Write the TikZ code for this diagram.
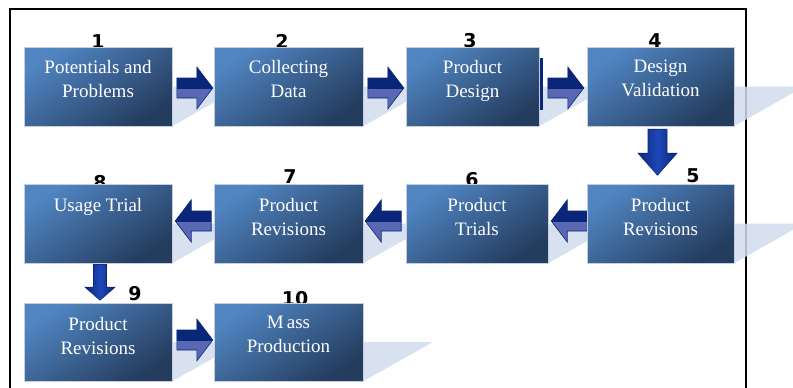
\documentclass[tikz,border=0pt]{standalone}
\usepackage{fontspec}
\setmainfont{Liberation Serif}
\newfontfamily\numfont{DejaVu Sans}
\usetikzlibrary{calc}
\definecolor{boxlight}{HTML}{5085C2}
\definecolor{boxdark}{HTML}{243C5E}
\definecolor{boxedge}{HTML}{C4CEDC}
\definecolor{shadowc}{HTML}{D2DCEE}
\definecolor{arrdark}{HTML}{0A2678}
\definecolor{arrlight}{HTML}{5A68B4}
\definecolor{arrmid}{HTML}{1E48B8}
\tikzset{
  stepbox/.style={minimum height=79pt,inner sep=0pt,top color=boxlight,bottom color=boxdark,shading angle=35,draw=boxedge,line width=0.8pt},
  txt/.style={text=white,font=\fontsize{19}{24}\selectfont,align=center,inner sep=0pt,anchor=north},
  num/.style={font=\numfont\bfseries\fontsize{19}{19}\selectfont,inner sep=0pt,anchor=base},
  pics/harrow/.style={code={
    \path[fill=arrlight,draw=arrdark,line width=0.6pt] (-36,-10) -- (-16,-10) -- (-16,-21) -- (0,0) -- (-16,21) -- (-16,10) -- (-36,10) -- cycle;
    \begin{scope}
      \clip (-40,-26) rectangle (2,0);
      \fill[arrdark] (-36,-10) -- (-16,-10) -- (-16,-21) -- (0,0) -- (-16,21) -- (-16,10) -- (-36,10) -- cycle;
    \end{scope}
  }},
  pics/varrow/.style n args={4}{code={
    \shade[left color=arrdark,right color=arrdark,middle color=arrmid,draw=arrdark,line width=0.6pt]
      (-#1,0) -- (#1,0) -- (#1,#3) -- (#2,#3) -- (0,#4) -- (-#2,#3) -- (-#1,#3) -- cycle;
  }}
}
\begin{document}
\begin{tikzpicture}[x=1pt,y=-1pt]
\useasboundingbox (0,0) rectangle (793,388);
\clip (0,0) rectangle (793,388);
\fill[white] (0,0) rectangle (793,388);

% frame
\draw[line width=2.5pt] (10,395) -- (10,9) -- (746,9) -- (746,395);

% step numbers (partly hidden behind boxes)
\node[num] (n1) at (98,48) {1};
\node[num] (n2) at (282,48) {2};
\node[num] (n3) at (470,47) {3};
\node[num] (n4) at (655,47) {4};
\node[num] (n5) at (693,182) {5};
\node[num] (n6) at (472,186) {6};
\node[num] (n7) at (290,183) {7};
\node[num] (n8) at (100,189) {8};
\node[num] (n9) at (135,300) {9};
\node[num] (n10) at (295,305) {10};

% box positions
\path (98,86.5) coordinate (c1) (288.5,86.5) coordinate (c2) (472.5,86.5) coordinate (c3) (660.5,86.5) coordinate (c4)
      (660.5,223.5) coordinate (c5) (477,223.5) coordinate (c6) (288.5,223.5) coordinate (c7) (98,223.5) coordinate (c8)
      (98,342) coordinate (c9) (288.5,342) coordinate (c10);
\path[every node/.style={minimum height=79pt,inner sep=0pt}]
  node[minimum width=148pt] (b1) at (c1) {}
  node[minimum width=149pt] (b2) at (c2) {}
  node[minimum width=133pt] (b3) at (c3) {}
  node[minimum width=147pt] (b4) at (c4) {}
  node[minimum width=147pt] (b5) at (c5) {}
  node[minimum width=142pt] (b6) at (c6) {}
  node[minimum width=149pt] (b7) at (c7) {}
  node[minimum width=148pt] (b8) at (c8) {}
  node[minimum width=148pt,minimum height=78pt] (b9) at (c9) {}
  node[minimum width=149pt,minimum height=78pt] (b10) at (c10) {};

% perspective shadows
\foreach \b in {b1,b2,b3,b4,b5,b6,b7,b8,b9,b10}{
  \fill[shadowc,fill opacity=0.85] (\b.east) -- ++(70,0) -- (\b.south east) -- cycle;
}

% arrows between steps
\pic at ($(b2.west)+(-1,1.5)$) {harrow};
\pic at ($(b3.west)+(-2,1.5)$) {harrow};
\pic at ($(b4.west)+(-3,1.5)$) {harrow};
\pic[xscale=-1] at ($(b6.east)+(3,-2.5)$) {harrow};
\pic[xscale=-1] at ($(b7.east)+(2,-2.5)$) {harrow};
\pic[xscale=-1] at ($(b8.east)+(3,-2.5)$) {harrow};
\pic at ($(b10.west)+(-1,-2)$) {harrow};
\pic at ($(b4.south)+(-3,3)$) {varrow={9.5}{19.5}{24}{46}};
\pic at ($(b8.south)+(2,1)$) {varrow={6.5}{15}{23}{36}};

% dark bar at the right edge of step 3
\fill[arrdark] ($(b3.north east)+(1,11)$) rectangle ($(b3.north east)+(4,63)$);

% boxes
\node[stepbox,minimum width=148pt] at (c1) {};
\node[stepbox,minimum width=149pt] at (c2) {};
\node[stepbox,minimum width=133pt] at (c3) {};
\node[stepbox,minimum width=147pt] at (c4) {};
\node[stepbox,minimum width=147pt] at (c5) {};
\node[stepbox,minimum width=142pt] at (c6) {};
\node[stepbox,minimum width=149pt] at (c7) {};
\node[stepbox,minimum width=148pt] at (c8) {};
\node[stepbox,minimum width=148pt,minimum height=78pt] at (c9) {};
\node[stepbox,minimum width=149pt,minimum height=78pt] at (c10) {};

% texts
\node[txt] (t1) at ($(b1.north)+(0,13)$) {Potentials and\\Problems};
\node[txt] (t2) at ($(b2.north)+(0,13)$) {Collecting\\Data};
\node[txt] (t3) at ($(b3.north)+(0,13)$) {Product\\Design};
\node[txt] (t4) at ($(b4.north)+(0,13)$) {Design\\Validation};
\node[txt] (t5) at ($(b5.north)+(0,14)$) {Product\\Revisions};
\node[txt] (t6) at ($(b6.north)+(0,14)$) {Product\\Trials};
\node[txt] (t7) at ($(b7.north)+(0,14)$) {Product\\Revisions};
\node[txt] (t8) at ($(b8.north)+(0,14)$) {Usage Trial};
\node[txt] (t9) at ($(b9.north)+(0,14)$) {Product\\Revisions};
\node[txt] (t10) at ($(b10.north)+(0,13)$) {M\kern3pt ass\\Production};
\end{tikzpicture}
\end{document}
